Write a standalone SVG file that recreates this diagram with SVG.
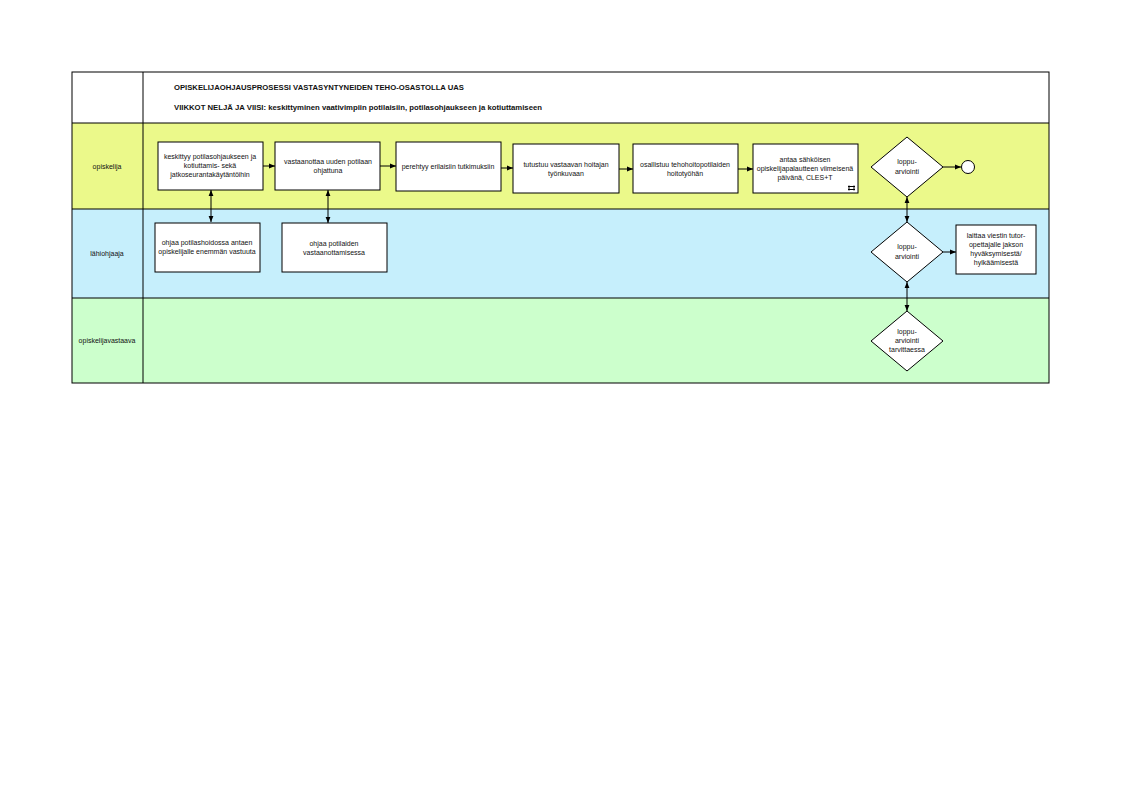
<svg xmlns="http://www.w3.org/2000/svg" width="1122" height="794" viewBox="0 0 1122 794">
<defs>
<style>
text{font-family:"Liberation Sans",Arial,sans-serif;fill:#111;}
.t{font-size:7px;text-anchor:middle;}
.h{font-size:7.6px;font-weight:bold;}
.lane{font-size:7px;text-anchor:middle;}
.box{fill:#fff;stroke:#000;stroke-width:1;}
.grid{fill:none;stroke:#000;stroke-width:1;}
.c{stroke:#000;stroke-width:1;fill:none;}
</style>
<marker id="ah" viewBox="0 0 10 10" refX="10" refY="5" markerWidth="6" markerHeight="6" markerUnits="userSpaceOnUse" orient="auto-start-reverse">
<path d="M0,1 L10,5 L0,9 z" fill="#000"/>
</marker>
</defs>
<rect width="1122" height="794" fill="#fff"/>
<g id="lanes">
<rect x="72" y="72" width="977" height="51" fill="#fff"/>
<rect x="72" y="123" width="977" height="86" fill="#ebf98a"/>
<rect x="72" y="209" width="977" height="89" fill="#c6effc"/>
<rect x="72" y="298" width="977" height="85" fill="#ccffcc"/>
<rect x="72" y="72" width="977" height="311" class="grid"/>
<line x1="143" y1="72" x2="143" y2="383" class="grid"/>
<line x1="72" y1="123" x2="1049" y2="123" class="grid"/>
<line x1="72" y1="209" x2="1049" y2="209" class="grid"/>
<line x1="72" y1="298" x2="1049" y2="298" class="grid"/>
<text class="h" x="174" y="90" textLength="290" lengthAdjust="spacingAndGlyphs">OPISKELIJAOHJAUSPROSESSI VASTASYNTYNEIDEN TEHO-OSASTOLLA UAS</text>
<text class="h" x="174" y="110" textLength="368" lengthAdjust="spacingAndGlyphs">VIIKKOT NELJÄ JA VIISI: keskittyminen vaativimpiin potilaisiin, potilasohjaukseen ja kotiuttamiseen</text>
<text class="lane" x="107" y="169">opiskelija</text>
<text class="lane" x="107" y="256">lähiohjaaja</text>
<text class="lane" x="107" y="343">opiskelijavastaava</text>
</g>
<g id="connectors">
<line x1="263" y1="166" x2="275" y2="166" class="c" marker-end="url(#ah)"/>
<line x1="380" y1="166" x2="396" y2="166" class="c" marker-end="url(#ah)"/>
<line x1="501" y1="168" x2="513" y2="168" class="c" marker-end="url(#ah)"/>
<line x1="619" y1="169" x2="633" y2="169" class="c" marker-end="url(#ah)"/>
<line x1="738" y1="169" x2="753" y2="169" class="c" marker-end="url(#ah)"/>
<line x1="943" y1="167" x2="961" y2="167" class="c" marker-end="url(#ah)"/>
<line x1="943" y1="252" x2="956" y2="252" class="c" marker-end="url(#ah)"/>
<line x1="211" y1="190" x2="211" y2="222" class="c" marker-start="url(#ah)" marker-end="url(#ah)"/>
<line x1="328" y1="190" x2="328" y2="223" class="c" marker-start="url(#ah)" marker-end="url(#ah)"/>
<line x1="907" y1="197" x2="907" y2="222" class="c" marker-start="url(#ah)" marker-end="url(#ah)"/>
<line x1="907" y1="282" x2="907" y2="311" class="c" marker-start="url(#ah)" marker-end="url(#ah)"/>
</g>
<g id="n1">
<rect x="158" y="142" width="105" height="48" class="box"/>
<text class="t" x="210" y="159">keskittyy potilasohjaukseen ja</text>
<text class="t" x="210" y="168">kotiuttamis- sekä</text>
<text class="t" x="210" y="177">jatkoseurantakäytäntöihin</text>
</g>
<g id="n2">
<rect x="275" y="142" width="105" height="48" class="box"/>
<text class="t" x="328" y="164">vastaanottaa uuden potilaan</text>
<text class="t" x="328" y="173">ohjattuna</text>
</g>
<g id="n3">
<rect x="396" y="142" width="105" height="49" class="box"/>
<text class="t" x="448" y="169">perehtyy erilaisiin tutkimuksiin</text>
</g>
<g id="n4">
<rect x="513" y="144" width="106" height="49" class="box"/>
<text class="t" x="566" y="167">tutustuu vastaavan hoitajan</text>
<text class="t" x="566" y="176">työnkuvaan</text>
</g>
<g id="n5">
<rect x="633" y="144" width="105" height="49" class="box"/>
<text class="t" x="685" y="167">osallistuu tehohoitopotilaiden</text>
<text class="t" x="685" y="176">hoitotyöhän</text>
</g>
<g id="n6">
<rect x="753" y="144" width="105" height="49" class="box"/>
<text class="t" x="805" y="162">antaa sähköisen</text>
<text class="t" x="805" y="171">opiskelijapalautteen viimeisenä</text>
<text class="t" x="805" y="180">päivänä, CLES+T</text>
<path d="M848,186.5 h7 M848,189.5 h7 M849,185.5 v5 M854,185.5 v5" stroke="#000" stroke-width="1" fill="none"/>
</g>
<g id="d1">
<polygon points="907,137 943,167 907,197 871,167" class="box"/>
<text class="t" x="907" y="164">loppu-</text>
<text class="t" x="907" y="174">arviointi</text>
</g>
<g id="end">
<circle cx="968" cy="167" r="6.5" class="box"/>
</g>
<g id="n7">
<rect x="155" y="223" width="105" height="49" class="box"/>
<text class="t" x="207" y="245">ohjaa potilashoidossa antaen</text>
<text class="t" x="207" y="254">opiskelijalle enemmän vastuuta</text>
</g>
<g id="n8">
<rect x="282" y="223" width="105" height="49" class="box"/>
<text class="t" x="334" y="246">ohjaa potilaiden</text>
<text class="t" x="334" y="255">vastaanottamisessa</text>
</g>
<g id="d2">
<polygon points="907,222 943,252 907,282 871,252" class="box"/>
<text class="t" x="907" y="249">loppu-</text>
<text class="t" x="907" y="259">arviointi</text>
</g>
<g id="n9">
<rect x="956" y="225" width="80" height="49" class="box"/>
<text class="t" x="996" y="238">laittaa viestin tutor-</text>
<text class="t" x="996" y="247">opettajalle jakson</text>
<text class="t" x="996" y="256">hyväksymisestä/</text>
<text class="t" x="996" y="265">hylkäämisestä</text>
</g>
<g id="d3">
<polygon points="907,311 943,341 907,371 871,341" class="box"/>
<text class="t" x="907" y="334">loppu-</text>
<text class="t" x="907" y="343">arviointi</text>
<text class="t" x="907" y="352">tarvittaessa</text>
</g>
</svg>
